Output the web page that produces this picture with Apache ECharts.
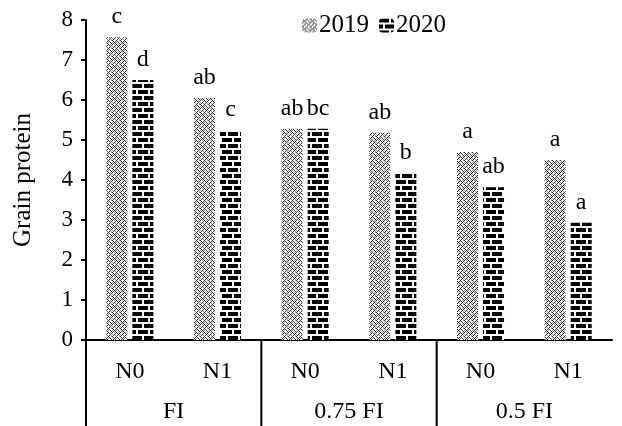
<!DOCTYPE html>
<html>
<head>
<meta charset="utf-8">
<script src="https://cdn.jsdelivr.net/npm/echarts@6/dist/echarts.min.js"></script>
<style>
  html, body { margin: 0; padding: 0; background: #fff; }
  #chart { width: 622px; height: 426px; }
</style>
</head>
<body>
<div id="chart"></div>
<script>
// Treatments: nitrogen level within each irrigation regime
const categories = ['N0', 'N1', 'N0', 'N1', 'N0', 'N1'];
const groups = ['FI', '0.75 FI', '0.5 FI'];
const seriesNames = ['2019', '2020'];
const values2019 = [7.57, 6.05, 5.28, 5.18, 4.70, 4.50];
const values2020 = [6.50, 5.25, 5.28, 4.17, 3.82, 2.93];
const letters2019 = ['c', 'ab', 'ab', 'ab', 'a', 'a'];
const letters2020 = ['d', 'c', 'bc', 'b', 'ab', 'a'];
const yTicks = [0, 1, 2, 3, 4, 5, 6, 7, 8];

const FONT = '"Liberation Serif", "Times New Roman", serif';

// Woven zigzag fill for the 2019 bars
function weavePattern() {
  const c = document.createElement('canvas');
  c.width = 8; c.height = 8;
  const g = c.getContext('2d');
  g.fillStyle = '#fff';
  g.fillRect(0, 0, 8, 8);
  const dark = [
    [0,0],[4,0],
    [1,1],[3,1],[5,1],
    [2,2],[6,2],
    [1,3],[3,3],[7,3],
    [0,4],[4,4],
    [3,5],[5,5],[7,5],
    [2,6],[6,6],
    [1,7],[5,7]
  ];
  const light = [[7,0],[0,2],[4,2],[6,4],[2,4],[0,6],[7,7],[3,7]];
  g.fillStyle = '#2e2e2e';
  dark.forEach(p => g.fillRect(p[0], p[1], 1, 1));
  g.fillStyle = '#a0a0a0';
  light.forEach(p => g.fillRect(p[0], p[1], 1, 1));
  return c;
}

// Brick fill for the 2020 bars
function brickPattern() {
  const c = document.createElement('canvas');
  c.width = 12; c.height = 12;
  const g = c.getContext('2d');
  g.fillStyle = '#fff';
  g.fillRect(0, 0, 12, 12);
  g.fillStyle = '#000';
  g.fillRect(0, 0, 10, 4);
  g.fillRect(0, 6, 4, 4);
  g.fillRect(6, 6, 6, 4);
  return c;
}

const chart = echarts.init(document.getElementById('chart'), null, { renderer: 'canvas' });

function labelFor(letters) {
  return {
    show: true,
    position: 'top',
    distance: 8,
    color: '#000',
    fontFamily: FONT,
    fontSize: 24,
    formatter: p => letters[p.dataIndex]
  };
}

const option = {
  backgroundColor: '#fff',
  animation: false,
  textStyle: { fontFamily: FONT },
  legend: {
    data: seriesNames,
    top: 8,
    left: 297,
    itemWidth: 15,
    itemHeight: 14,
    itemGap: 10,
    textStyle: { fontFamily: FONT, fontSize: 25, color: '#000', padding: [0, 0, 0, -3] }
  },
  grid: { left: 86, right: 10, top: 20, bottom: 86, containLabel: false },
  xAxis: [
    {
      type: 'category',
      data: categories,
      position: 'bottom',
      axisLine: { show: true, lineStyle: { color: '#000', width: 2 } },
      axisTick: { show: false },
      axisLabel: { color: '#000', fontFamily: FONT, fontSize: 24, margin: 20 }
    },
    {
      type: 'category',
      data: groups,
      position: 'bottom',
      axisLine: { show: false },
      axisTick: { show: false },
      axisLabel: { color: '#000', fontFamily: FONT, fontSize: 24, margin: 60 }
    }
  ],
  yAxis: {
    type: 'value',
    min: 0,
    max: 8,
    interval: 1,
    name: 'Grain protein',
    nameLocation: 'middle',
    nameGap: 50,
    nameTextStyle: { color: '#000', fontFamily: FONT, fontSize: 25 },
    axisLine: { show: true, lineStyle: { color: '#000', width: 2 } },
    axisTick: { show: true, length: 5, lineStyle: { color: '#000', width: 2 } },
    axisLabel: {
      color: '#000', fontFamily: FONT, fontSize: 23, margin: 13,
      formatter: v => (yTicks.indexOf(v) >= 0 ? String(v) : '')
    },
    splitLine: { show: false }
  },
  series: [
    {
      name: seriesNames[0],
      type: 'bar',
      xAxisIndex: 0,
      data: values2019,
      barWidth: 21,
      barGap: '24%',
      itemStyle: { color: { image: weavePattern(), repeat: 'repeat' } },
      label: labelFor(letters2019)
    },
    {
      name: seriesNames[1],
      type: 'bar',
      xAxisIndex: 0,
      data: values2020,
      barWidth: 21,
      barGap: '24%',
      itemStyle: { color: { image: brickPattern(), repeat: 'repeat' } },
      label: labelFor(letters2020)
    }
  ]
};

chart.setOption(option);

// Vertical dividers below the axis: at the left edge and between irrigation groups
const yBase = chart.convertToPixel({ yAxisIndex: 0 }, 0);
const px = i => chart.convertToPixel({ xAxisIndex: 0 }, i);
const band = px(1) - px(0);
const dividerX = [px(0) - band / 2, (px(1) + px(2)) / 2, (px(3) + px(4)) / 2];
const bottom = chart.getHeight();
chart.setOption({
  graphic: dividerX.map(x => ({
    type: 'line',
    shape: { x1: x, y1: yBase, x2: x, y2: bottom },
    style: { stroke: '#000', lineWidth: 2 },
    silent: true
  }))
});
</script>
</body>
</html>
